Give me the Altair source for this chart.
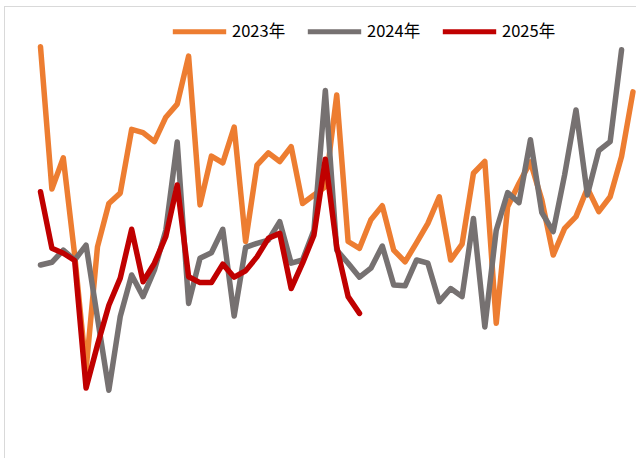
import altair as alt
import pandas as pd

series_names = ["2023年", "2024年", "2025年"]
series_colors = ["#ED7D31", "#767171", "#C00000"]

v2023 = [91.0, 59.5, 66.4, 44.9, 19.5, 46.7, 56.3, 58.6, 72.7, 72.0,
         70.0, 75.4, 78.3, 88.9, 56.0, 66.8, 65.3, 73.2, 47.9, 64.8,
         67.5, 65.6, 68.9, 56.3, 58.2, 60.0, 80.3, 47.9, 46.4, 52.7,
         55.8, 46.0, 43.4, 47.6, 51.9, 57.8, 43.8, 47.3, 63.0, 65.6,
         29.8, 55.6, 60.8, 65.5, 57.1, 44.9, 50.8, 53.4, 59.7, 54.5,
         57.8, 66.7, 81.0]
v2024 = [42.7, 43.3, 46.0, 43.8, 47.1, 31.0, 15.0, 31.3, 40.5, 35.7,
         41.6, 50.4, 69.9, 34.2, 44.2, 45.4, 50.6, 31.4, 46.6, 47.5,
         48.2, 52.3, 43.1, 43.8, 50.4, 81.3, 46.0, 43.1, 40.0, 42.0,
         46.9, 38.3, 38.1, 43.8, 43.1, 34.6, 37.5, 35.7, 53.0, 29.0,
         50.4, 58.7, 56.5, 70.4, 54.3, 50.1, 62.6, 77.0, 58.2, 68.0,
         70.0, 90.3]
v2025 = [58.9, 46.4, 45.3, 43.7, 15.5, 25.0, 33.8, 39.8, 50.6, 39.0,
         43.1, 49.0, 60.4, 40.1, 38.8, 38.8, 42.9, 40.0, 41.4, 44.5,
         48.6, 49.7, 37.5, 43.1, 49.3, 66.1, 46.7, 35.7, 32.0]

rows = []
for name, vals in zip(series_names, [v2023, v2024, v2025]):
    for i, v in enumerate(vals):
        rows.append({"week": i + 1, "value": v, "series": name})
df = pd.DataFrame(rows)

W, H = 632, 452

lines = alt.Chart(df).mark_line(
    strokeWidth=5.5, strokeCap="round", strokeJoin="round"
).encode(
    x=alt.X("week:Q", axis=None,
            scale=alt.Scale(domain=[-2.203, 53.267], nice=False, zero=False)),
    y=alt.Y("value:Q", axis=None,
            scale=alt.Scale(domain=[0, 100], nice=False, zero=False)),
    color=alt.Color(
        "series:N",
        scale=alt.Scale(domain=series_names, range=series_colors),
        legend=alt.Legend(
            title=None,
            orient="none",
            legendX=166,
            legendY=-4,
            direction="horizontal",
            symbolType="stroke",
            symbolSize=2850,
            symbolStrokeWidth=5,
            labelFont="Noto Sans CJK SC",
            labelFontSize=16.5,
            labelColor="#000000",
            labelOffset=3,
            columnPadding=11,
        ),
    ),
    order=alt.Order("week:Q"),
)

border_df = pd.DataFrame({"k": [0]})
left_rule = alt.Chart(border_df).mark_rule(color="#d9d9d9", strokeWidth=1).encode(
    x=alt.value(0.5), y=alt.value(0), y2=alt.value(H)
)
top_rule = alt.Chart(border_df).mark_rule(color="#d9d9d9", strokeWidth=1).encode(
    x=alt.value(0), x2=alt.value(W), y=alt.value(0.5)
)

chart = alt.layer(left_rule, top_rule, lines).properties(
    width=W, height=H,
    autosize=alt.AutoSizeParams(type="none"),
    padding={"left": 4, "top": 6, "right": 0, "bottom": 0},
).configure_view(stroke=None).configure(background="#ffffff")

chart.save("out.html", embed_options={"renderer": "svg", "actions": False})
